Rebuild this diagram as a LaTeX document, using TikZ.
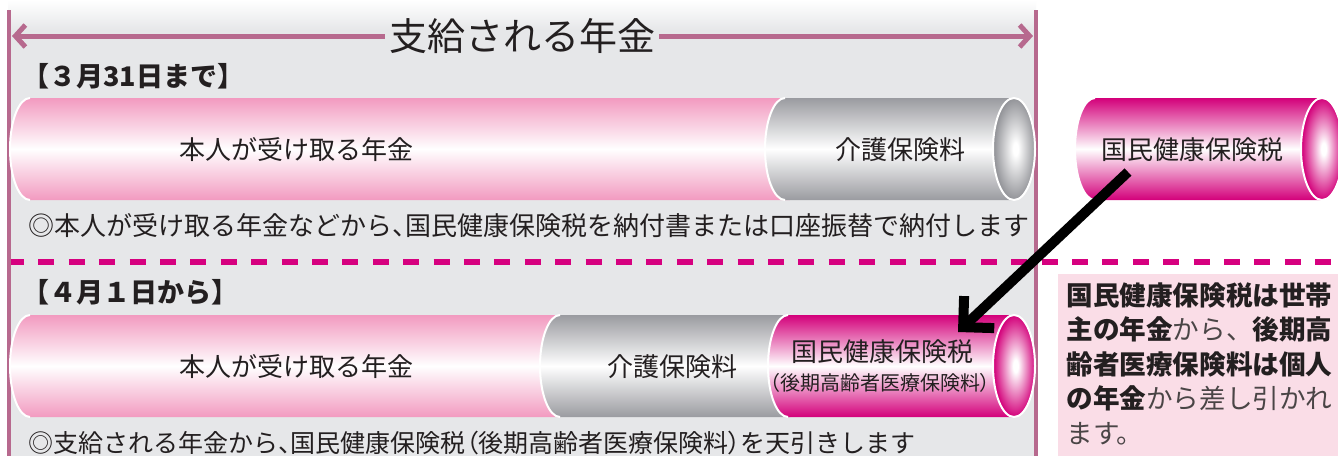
\documentclass[tikz,border=0pt]{standalone}
\usepackage{fontspec}
\newfontfamily\jp{Noto Sans CJK JP}
% proportional widths, used for the half-width punctuation
\newfontfamily\jpp[RawFeature=+palt]{Noto Sans CJK JP}
\newcommand\hw[1]{{\jpp #1}}
\usetikzlibrary{arrows.meta}

\definecolor{panel}{HTML}{E6E7E9}
\definecolor{mauve}{HTML}{B7698E}
\definecolor{tubepink}{HTML}{F29AC0}
\definecolor{tubegray}{HTML}{9A9BA0}
\definecolor{tubemag}{HTML}{D3007A}
\definecolor{dashmag}{HTML}{D6007F}
\definecolor{notepink}{HTML}{FADDE7}
\definecolor{ink}{HTML}{231F20}
\definecolor{softink}{HTML}{4A4546}

% open ends of the pipes: bright core, darker rim
\pgfdeclareradialshading{endgray}{\pgfpoint{2bp}{0bp}}{color(0bp)=(white); color(3bp)=(white); color(25bp)=(tubegray!95!black); color(50bp)=(tubegray!95!black)}
\pgfdeclareradialshading{endmag}{\pgfpoint{2bp}{0bp}}{color(0bp)=(white); color(3bp)=(white); color(25bp)=(tubemag); color(50bp)=(tubemag)}

% one pipe section: colour, left x, right x, top y, bottom y
\newcommand\pipesection[5]{%
  \shade[top color=#1,bottom color=#1,middle color=white]
    (#3,#4) -- ({#2+20},#4) arc[start angle=90,end angle=270,x radius=10pt,y radius=25.5pt]
    -- (#3,#5) -- cycle;
  \draw[white,line width=1pt]
    ({#2+20},#4) arc[start angle=90,end angle=270,x radius=10pt,y radius=25.5pt];}
% open end of a pipe: shading name, centre
\newcommand\pipeend[2]{%
  \shadedraw[shading=#1,draw=white,line width=1pt] #2 ellipse[x radius=10.5pt,y radius=25.5pt];}

\begin{document}
\begin{tikzpicture}[x=0.5pt,y=-0.5pt,
  every node/.style={inner sep=0pt,text=ink},
  label13/.style={font=\jp\fontsize{13}{13}\selectfont},
  heading/.style={font=\jp\bfseries\fontsize{13.5}{13.5}\selectfont,anchor=west},
  span/.style={mauve,line width=2.5pt,-{Straight Barb[length=5pt,width=11pt]}},
  rule/.style={mauve,line width=2pt},
  pointer/.style={black,line width=5pt,-{Straight Barb[length=11pt,width=22pt]}}]
\useasboundingbox (0,0) rectangle (1338,456);
\fill[white] (0,0) rectangle (1338,456);

% grey panel for the pension
\shade[top color=white,bottom color=panel] (8,0) rectangle (1036,30);
\fill[panel] (8,30) rectangle (1036,456);

% pink note area
\fill[notepink] (1058,274) rectangle (1338,456);

% divider between the two periods
\draw[dashmag,line width=3pt,dash pattern=on 8pt off 7.2pt] (8,262) -- (1338,262);

% side rules of the panel
\coordinate (ruleLt) at (9,10);   \coordinate (ruleLb) at (9,456);
\coordinate (ruleRt) at (1036,10); \coordinate (ruleRb) at (1036,456);
\draw[rule] (ruleLt) -- (ruleLb);
\draw[rule] (ruleRt) -- (ruleRb);

% span of the pension paid
\node[font=\jp\fontsize{19}{19}\selectfont,inner xsep=2pt] (title) at (522,36) {支給される年金};
\coordinate (spanL) at (12,36);
\coordinate (spanR) at (1033,36);
\draw[span] (title.west) -- (spanL);
\draw[span] (title.east) -- (spanR);

% ---- until 31 March ----
\node[heading] (h1) at (22,76) {【３月31日まで】};
\pipesection{tubepink}{10}{790}{98}{200}
\pipesection{tubegray}{765}{1014}{98}{200}
\pipeend{endgray}{(1014,149)}
\node[label13] (own1) at (296,150) {本人が受け取る年金};
\node[label13] (care1) at (900,150) {介護保険料};
\node[font=\jp\fontsize{13}{13}\selectfont,anchor=west] (r1) at (28,226)
  {◎本人が受け取る年金などから\hw{、}国民健康保険税を納付書または口座振替で納付します};

% separate pipe for the national health insurance tax
\pipesection{tubemag}{1075}{1322}{98}{200}
\pipeend{endmag}{(1322,149)}
\node[label13] (tax1) at (1192,150) {国民健康保険税};

% ---- from 1 April ----
\node[heading] (h2) at (22,292) {【４月１日から】};
\pipesection{tubepink}{10}{560}{315}{417}
\pipesection{tubegray}{540}{790}{315}{417}
\pipesection{tubemag}{768}{1014}{315}{417}
\pipeend{endmag}{(1014,366)}
\node[label13] (own2) at (296,367) {本人が受け取る年金};
\node[label13] (care2) at (672,367) {介護保険料};
\node[label13] (tax2) at (882,352) {国民健康保険税};
\node[font=\jp\fontsize{10}{10}\selectfont] (tax2b) at (880,383) {\hw{（}後期高齢者医療保険料\hw{）}};
\node[font=\jp\fontsize{12.5}{12.5}\selectfont,anchor=west] (r2) at (28,443)
  {◎支給される年金から\hw{、}国民健康保険税\hw{（}後期高齢者医療保険料\hw{）}を天引きします};

% the tax moves into the deducted pipe
\coordinate (ptrFrom) at (1128,172);
\coordinate (ptrTo) at (958,332);
\draw[pointer] (ptrFrom) -- (ptrTo);

% note
\node[anchor=north west,align=left,font=\jp\fontsize{13.3}{17.25}\selectfont] (note) at (1066,282)
  {{\bfseries 国民健康保険税は世帯}\\
   {\bfseries 主の年金}{\color{softink}から、}{\bfseries 後期高}\\
   {\bfseries 齢者医療保険料は個人}\\
   {\bfseries の年金}{\color{softink}から差し引かれ}\\
   {\color{softink}ます。}};
\end{tikzpicture}
\end{document}
